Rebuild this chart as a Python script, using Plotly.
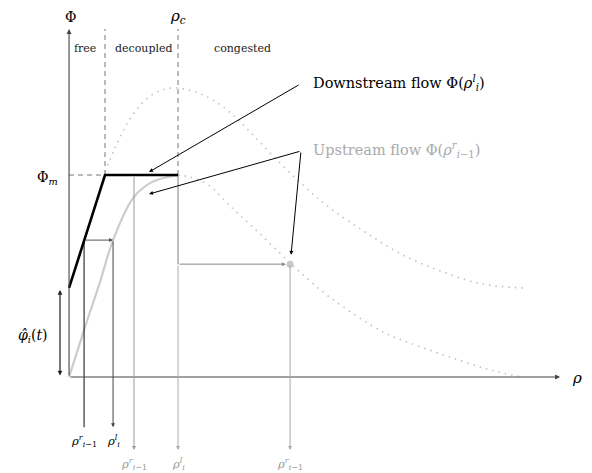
import plotly.graph_objects as go

# ---- schematic values (rho_c = 1, Phi_m = 1) ----
rho_c = 1.0
phi_m = 1.0
rho_free_end = 0.33          # end of "free" zone
rho_r_prev = 0.138           # black rho^r_{i-1}
rho_l_i = 0.404              # black rho^l_i
rho_up_dec = 0.596           # gray rho^r_{i-1} (decoupled)
rho_up_cong = 2.028          # gray rho^r_{i-1} (congested)
phi_cong = 0.559             # flow at rho_up_cong
phi_level = 0.678            # flow at rho_r_prev on downstream curve
phi_hat = 0.431              # hat phi_i(t)
rho_axis_end = 4.505
phi_axis_end = 1.723

# upstream flux, free part (solid gray)
up_rho = [0.0, 0.147, 0.284, 0.404, 0.587, 0.743, 0.899, 1.0]
up_phi = [0.0, 0.248, 0.470, 0.678, 0.886, 0.960, 0.990, 1.0]

# upstream flux, congested part (dotted)
upc_rho = [1.0, 1.11, 1.28, 1.49, 1.73, 1.98, 2.119, 2.394, 2.881, 3.128, 3.495, 3.862, 4.165]
upc_phi = [1.0, 0.99, 0.95, 0.84, 0.72, 0.59, 0.520, 0.394, 0.223, 0.168, 0.099, 0.035, 0.0]

# downstream full flux (dotted)
dn_rho = [0.330, 0.422, 0.541, 0.697, 0.853, 0.991, 1.156, 1.321, 1.505, 1.688,
          1.936, 2.165, 2.394, 2.716, 3.064, 3.431, 3.798, 4.165]
dn_phi = [1.015, 1.134, 1.262, 1.371, 1.421, 1.431, 1.411, 1.371, 1.297, 1.198,
          1.059, 0.941, 0.837, 0.718, 0.604, 0.520, 0.460, 0.441]

# downstream flow (thick black)
ds_rho = [0.0, rho_r_prev, rho_free_end, rho_c]
ds_phi = [0.441, phi_level, phi_m, phi_m]

# label rows
row_black = -0.248
row_gray = -0.361
lab_black = -0.315
lab_gray = -0.43

SERIF = "DejaVu Serif"

fig = go.Figure()

def line(xs, ys, color, width=1, dash=None, shape="linear"):
    fig.add_trace(go.Scatter(x=xs, y=ys, mode="lines", hoverinfo="skip",
                             line=dict(color=color, width=width, dash=dash, shape=shape),
                             showlegend=False, cliponaxis=False))

# dotted curves
line(dn_rho, dn_phi, "#c2c2c2", 1.6, "1.5px,5px", "spline")
line(upc_rho, upc_phi, "#c2c2c2", 1.6, "1.5px,5px", "spline")

# dashed zone boundaries
line([rho_free_end, rho_free_end], [phi_m, phi_axis_end], "#777777", 1, "5px,4px")
line([rho_c, rho_c], [phi_m, phi_axis_end], "#777777", 1, "5px,4px")
line([0, rho_free_end], [phi_m, phi_m], "#777777", 1, "5px,4px")

# upstream curve
line(up_rho, up_phi, "#cccccc", 2.2, None, "spline")

# vertical guide lines
line([rho_r_prev, rho_r_prev], [phi_level, row_black], "#222222", 1.1)
line([rho_c, rho_c], [phi_m, phi_cong], "#888888", 1.1)

# downstream flow (thick)
line(ds_rho, ds_phi, "#000000", 2.6)

# marker on congested curve
fig.add_trace(go.Scatter(x=[rho_up_cong], y=[phi_cong], mode="markers", hoverinfo="skip",
                         marker=dict(color="#c8c8c8", size=7), showlegend=False))

ann = []

def arrow(x, y, ax, ay, color, width=1.0, head=2, size=1.0, side="end"):
    ann.append(dict(x=x, y=y, ax=ax, ay=ay, xref="x", yref="y", axref="x", ayref="y",
                    text="", showarrow=True, arrowhead=head, arrowsize=size,
                    arrowwidth=width, arrowcolor=color, arrowside=side,
                    standoff=0, startstandoff=0))

# axes
arrow(rho_axis_end, 0, 0, 0, "#444444", 1.1, 2, 0.9)
arrow(0, phi_axis_end, 0, 0, "#444444", 1.1, 2, 0.9)

# black path
arrow(rho_l_i, phi_level, rho_r_prev, phi_level, "#555555", 1.0, 2, 0.8)
arrow(rho_l_i, row_black, rho_l_i, phi_level, "#444444", 1.0, 2, 0.8)

# gray paths
arrow(rho_up_dec, row_gray, rho_up_dec, phi_m, "#9a9a9a", 1.0, 2, 0.8)
arrow(rho_c, row_gray, rho_c, phi_cong, "#aaaaaa", 1.0, 2, 0.8)
arrow(rho_up_cong - 0.04, phi_cong, rho_c, phi_cong, "#888888", 1.0, 2, 0.8)
arrow(rho_up_cong, row_gray, rho_up_cong, phi_cong, "#aaaaaa", 1.0, 2, 0.8)

# hat phi double arrow
arrow(-0.083, phi_hat, -0.083, 0.0, "#222222", 1.2, 2, 0.8, "end+start")

# callout arrows
arrow(0.734, 1.015, 2.119, 1.450, "#000000", 1.0, 2, 0.8)
arrow(0.734, 0.906, 2.128, 1.119, "#000000", 1.0, 2, 0.8)
arrow(2.037, 0.605, 2.128, 1.119, "#000000", 1.0, 2, 0.8)

def text(x, y, s, size=14, color="#000000", xanchor="center", yanchor="middle"):
    ann.append(dict(x=x, y=y, xref="x", yref="y", text=s, showarrow=False,
                    font=dict(family=SERIF, size=size, color=color),
                    xanchor=xanchor, yanchor=yanchor))

text(0.01, 1.783, "Φ", 14)
text(rho_c, 1.783, "<i>ρ</i><sub><i>c</i></sub>", 15)
text(0.147, 1.629, "free", 11, "#222222")
text(0.688, 1.629, "decoupled", 11, "#222222")
text(1.587, 1.629, "congested", 11, "#222222")
text(-0.20, 0.985, "Φ<sub><i>m</i></sub>", 14)
text(-0.33, 0.205, "<i>φ̂</i><sub><i>i</i></sub>(<i>t</i>)", 14)
text(4.66, -0.005, "<i>ρ</i>", 15)

text(rho_r_prev, lab_black, "<i>ρ</i><sup><i>r</i></sup><sub><i>i</i>−1</sub>", 11.5)
text(rho_l_i, lab_black, "<i>ρ</i><sup><i>l</i></sup><sub><i>i</i></sub>", 11.5)
text(rho_up_dec, lab_gray, "<i>ρ</i><sup><i>r</i></sup><sub><i>i</i>−1</sub>", 11.5, "#999999")
text(rho_c, lab_gray, "<i>ρ</i><sup><i>l</i></sup><sub><i>i</i></sub>", 11.5, "#999999")
text(rho_up_cong, lab_gray, "<i>ρ</i><sup><i>r</i></sup><sub><i>i</i>−1</sub>", 11.5, "#999999")

text(2.22, 1.455, "Downstream flow Φ(<i>ρ</i><sup><i>l</i></sup><sub><i>i</i></sub>)", 14.5,
     "#000000", "left")
text(2.22, 1.124, "Upstream flow Φ(<i>ρ</i><sup><i>r</i></sup><sub><i>i</i>−1</sub>)", 14.5,
     "#aaaaaa", "left")

# page body has an 8px margin: the plot area spans page pixels 8..592 x 8..473
fig.update_layout(
    width=584, height=465,
    margin=dict(l=0, r=0, t=0, b=0),
    paper_bgcolor="white", plot_bgcolor="white",
    xaxis=dict(range=[-0.560, 4.798], visible=False, fixedrange=True),
    yaxis=dict(range=[-0.475, 1.827], visible=False, fixedrange=True),
    annotations=ann,
    showlegend=False,
)

fig.write_html("out.html", config={"displayModeBar": False})
